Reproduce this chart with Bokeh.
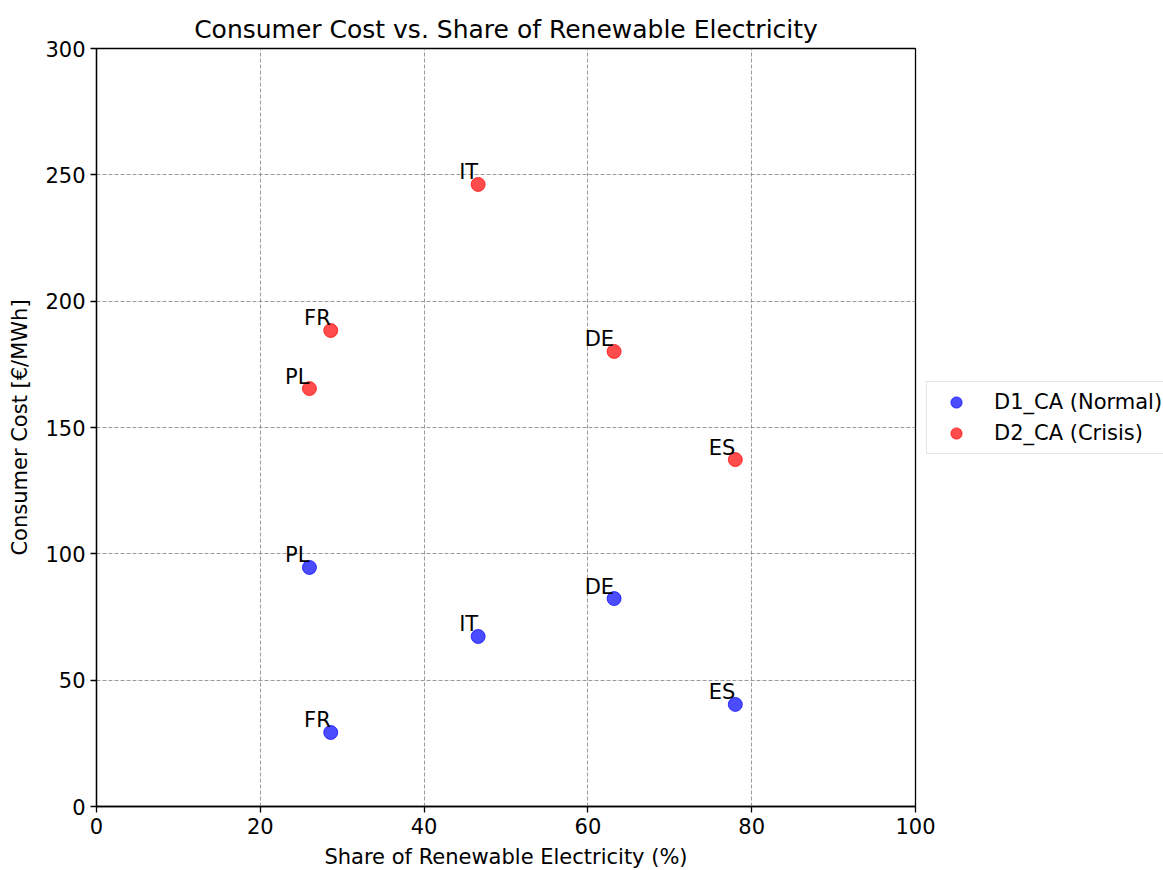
from bokeh.plotting import figure
from bokeh.models import ColumnDataSource, Legend, LegendItem, FixedTicker, Range1d
from bokeh.core.properties import value
from bokeh.embed import file_html
from bokeh.resources import INLINE

countries = ["PL", "FR", "IT", "DE", "ES"]
renewable_share = [26.0, 28.6, 46.6, 63.2, 78.0]
cost_normal = [94.6, 29.3, 67.3, 82.3, 40.4]
cost_crisis = [165.4, 188.4, 246.2, 180.1, 137.3]
x_ticks = [0, 20, 40, 60, 80, 100]
y_ticks = [0, 50, 100, 150, 200, 250, 300]

FONT = "DejaVu Sans"

p = figure(width=1160, height=866, output_backend="svg", toolbar_location=None,
           x_range=Range1d(0, 100), y_range=Range1d(0, 300),
           frame_width=819, frame_height=758,
           min_border_left=96, min_border_top=48, min_border_right=245, min_border_bottom=60,
           title="Consumer Cost vs. Share of Renewable Electricity")

p.title.align = "center"
p.title.text_font = FONT
p.title.text_font_size = "25px"
p.title.text_font_style = "normal"
p.title.text_color = "black"

src_n = ColumnDataSource(dict(x=renewable_share, y=cost_normal, lab=countries))
src_c = ColumnDataSource(dict(x=renewable_share, y=cost_crisis, lab=countries))

rn = p.scatter("x", "y", source=src_n, size=14, fill_color="blue", line_color="blue",
               fill_alpha=0.7, line_alpha=0.7)
rc = p.scatter("x", "y", source=src_c, size=14, fill_color="red", line_color="red",
               fill_alpha=0.7, line_alpha=0.7)

for s in (src_n, src_c):
    p.text("x", "y", text="lab", source=s, text_align="right", text_baseline="bottom",
           text_font=value(FONT), text_font_size="21px", text_color="black")

for ax in (p.xaxis[0], p.yaxis[0]):
    ax.major_label_text_font = FONT
    ax.major_label_text_font_size = "21px"
    ax.major_label_text_color = "black"
    ax.axis_label_text_font = FONT
    ax.axis_label_text_font_size = "21px"
    ax.axis_label_text_font_style = "normal"
    ax.axis_label_text_color = "black"
    ax.axis_line_color = "black"
    ax.axis_line_width = 1.3
    ax.major_tick_line_color = "black"
    ax.major_tick_line_width = 1.3
    ax.major_tick_out = 6
    ax.major_tick_in = 0
    ax.minor_tick_line_color = None

p.xaxis.ticker = FixedTicker(ticks=x_ticks)
p.yaxis.ticker = FixedTicker(ticks=y_ticks)
p.xaxis.axis_label = "Share of Renewable Electricity (%)"
p.yaxis.axis_label = "Consumer Cost [€/MWh]"
p.xaxis.axis_label_standoff = 8
p.yaxis.axis_label_standoff = 10

p.outline_line_color = "black"
p.outline_line_width = 1.3

for g in (p.xgrid[0], p.ygrid[0]):
    g.grid_line_color = "gray"
    g.grid_line_dash = "4 2"
    g.grid_line_width = 0.8

legend = Legend(items=[LegendItem(label="D1_CA (Normal)", renderers=[rn]),
                       LegendItem(label="D2_CA (Crisis)", renderers=[rc])],
                location=(11, 352))
legend.label_text_font = FONT
legend.label_text_font_size = "21px"
legend.label_text_color = "black"
legend.border_line_color = "#cccccc"
legend.border_line_width = 1.3
legend.background_fill_alpha = 0.8
legend.glyph_height = 28
legend.glyph_width = 46
legend.label_height = 28
legend.spacing = 3
legend.padding = 6
legend.label_standoff = 15
legend.margin = 0
p.add_layout(legend, "right")

open("out.html", "w").write(file_html(p, INLINE))
